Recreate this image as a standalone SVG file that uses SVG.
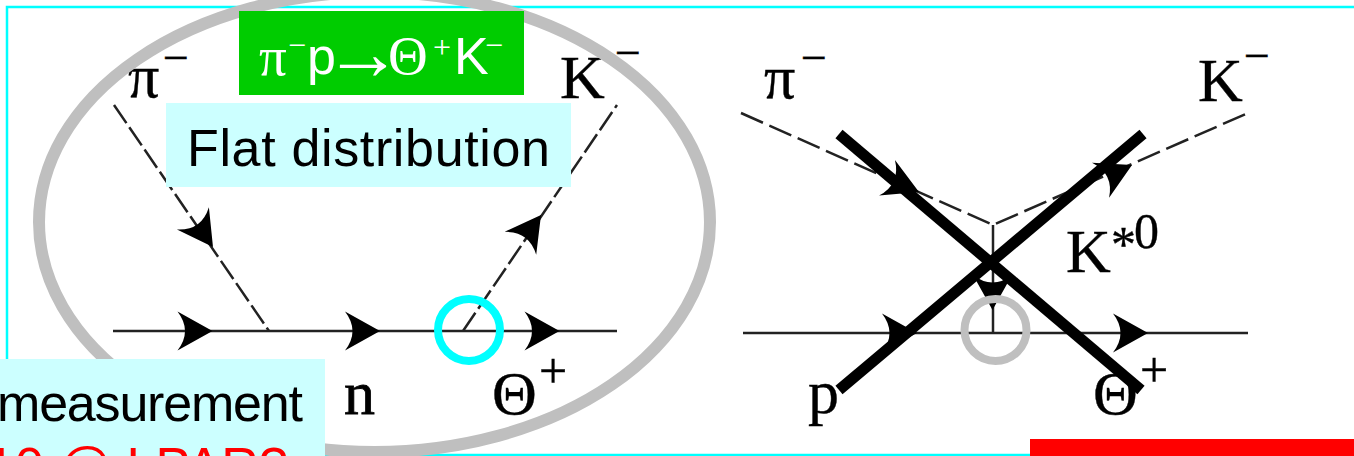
<svg xmlns="http://www.w3.org/2000/svg" width="1354" height="456" viewBox="0 0 1354 456">
<style>
.ser{font-family:"Liberation Serif",serif;fill:#000;font-size:62px}
.sup{font-size:46px}
.pl{font-size:50px}
.san{font-family:"Liberation Sans",sans-serif;font-size:52px}
.thin{fill:none;stroke:#222;stroke-width:2.5}
.dash{fill:none;stroke:#222;stroke-width:2.5}
.cross{stroke:#000;stroke-width:11;fill:none}
.w{fill:#fff}
</style>
<defs>
<path id="ah" d="M0 0L-35 19.5Q-20 0 -35 -19.5Z"/>
</defs>
<rect width="1354" height="456" fill="#fff"/>
<rect x="7" y="7" width="1360" height="448" fill="none" stroke="#0ff" stroke-width="2.5"/>
<g id="connectors">
<path class="dash" stroke-dasharray="22 5" d="M114 105L269 331"/>
<path class="dash" stroke-dasharray="22 5" d="M463 331L617 105"/>
<path class="thin" d="M113 331H617"/>
<path class="dash" stroke-dasharray="24 7" d="M741 113L993 225L1248 113"/>
<path class="thin" d="M993 225V333"/>
<path class="thin" d="M743 333H1248"/>
<use href="#ah" transform="translate(212.5 331)"/>
<use href="#ah" transform="translate(380 331)"/>
<use href="#ah" transform="translate(559.5 331)"/>
<use href="#ah" transform="translate(213 247) rotate(55)"/>
<use href="#ah" transform="translate(541 215) rotate(-54)"/>
<use href="#ah" transform="translate(917 333)"/>
<use href="#ah" transform="translate(1148 333)"/>
<use href="#ah" transform="translate(919 192) rotate(24)"/>
<use href="#ah" transform="translate(1132 165) rotate(-26)"/>
<use href="#ah" transform="translate(992.5 310) rotate(90)"/>
</g>
<g id="labels" stroke="#000" stroke-width=".4">
<text class="ser" x="128" y="97">π</text><text class="ser sup" x="163" y="73">−</text>
<text class="ser" x="560" y="98">K</text><text class="ser sup" x="615" y="68">−</text>
<text class="ser" x="344" y="414" stroke-width=".8">n</text>
<text class="ser" x="492" y="414">Θ</text><text class="ser pl" x="539" y="388">+</text>
<text class="ser" x="764" y="98">π</text><text class="ser sup" x="801" y="73">−</text>
<text class="ser" x="1198" y="101">K</text><text class="ser sup" x="1244" y="71">−</text>
<text class="ser" x="1066" y="272">K</text><text class="ser pl" x="1111" y="261">*</text><text class="ser pl" x="1134" y="248">0</text>
<text class="ser" x="808" y="413">p</text>
<text class="ser" x="1093" y="414">Θ</text><text class="ser pl" x="1140" y="387">+</text>
</g>
<g id="ellipse"><ellipse cx="374.5" cy="222" rx="335.5" ry="230" fill="none" stroke="#bfbfbf" stroke-width="12"/></g>
<g id="circle-cyan"><circle cx="469" cy="330" r="31" fill="none" stroke="#0ff" stroke-width="8"/></g>
<g id="circle-grey"><circle cx="995.5" cy="330" r="31" fill="none" stroke="#bfbfbf" stroke-width="8"/></g>
<g id="cross">
<path class="cross" d="M839 134L1141 390"/>
<path class="cross" d="M1143 134L839 390"/>
</g>
<g id="box-reaction">
<rect x="239" y="11" width="285" height="84" fill="#0c0"/>
<text class="ser w" x="259" y="75" style="font-size:55px">π</text>
<text class="ser w" x="288" y="56" style="font-size:32px">−</text>
<text class="san w" x="307" y="74">p</text>
<text class="ser w" x="324" y="79" style="font-size:78px">→</text>
<text class="ser w" x="388" y="74" style="font-size:55px">Θ</text>
<text class="ser w" x="433" y="58" style="font-size:32px">+</text>
<text class="san w" x="454" y="74">K</text>
<text class="ser w" x="485" y="56" style="font-size:32px">−</text>
</g>
<g id="box-flat">
<rect x="166" y="103" width="405" height="84" fill="#cff"/>
<text x="187" y="166" class="san" fill="#000" textLength="363">Flat distribution</text>
</g>
<g id="box-measure">
<rect x="-10" y="359" width="335" height="97" fill="#cff"/>
<text x="-3" y="421" class="san" fill="#000" textLength="306">measurement</text>
<text x="-14" y="484" class="san" fill="#f00" textLength="302">10 @ LPAR?</text>
</g>
<g id="box-red"><rect x="1030" y="439" width="324" height="17" fill="#f00"/></g>
</svg>
